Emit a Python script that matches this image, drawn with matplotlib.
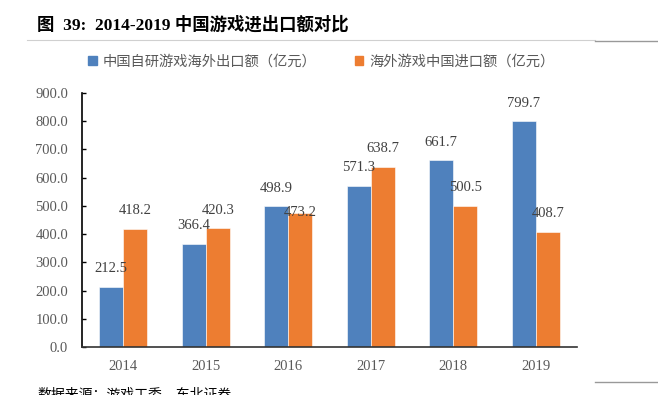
import numpy as np
import matplotlib
matplotlib.use("Agg")
import matplotlib.pyplot as plt
from matplotlib.lines import Line2D
from matplotlib.patches import Patch

plt.rcParams['font.family'] = ['Liberation Serif', 'Noto Sans CJK SC', 'DejaVu Sans']

# data
years = ['2014', '2015', '2016', '2017', '2018', '2019']
export_vals = [212.5, 366.4, 498.9, 571.3, 661.7, 799.7]
import_vals = [418.2, 420.3, 473.2, 638.7, 500.5, 408.7]
series_names = ['中国自研游戏海外出口额（亿元）', '海外游戏中国进口额（亿元）']
yticks = [0, 100, 200, 300, 400, 500, 600, 700, 800, 900]

BLUE = '#4F81BD'
ORANGE = '#ED7D31'
GRAY = '#595959'

W, H = 658, 395
fig = plt.figure(figsize=(W / 100, H / 100), dpi=100)
ax = fig.add_axes([82 / W, 1 - 347 / H, (577 - 82) / W, (347 - 93) / H])

x = np.arange(len(years))
bw = 0.29
ax.bar(x - bw / 2, export_vals, bw, color=BLUE, edgecolor='white', linewidth=0.4)
ax.bar(x + bw / 2, import_vals, bw, color=ORANGE, edgecolor='white', linewidth=0.4)

# value labels above the bars (one label sits lower, as in the source)
for i, v in enumerate(export_vals):
    ax.annotate(f'{v:.1f}', (x[i] - bw / 2, v), xytext=(0, 13), textcoords='offset points',
                ha='center', va='center', fontsize=10.5, color='#404040')
for i, v in enumerate(import_vals):
    dy = 1 if i == 2 else 13
    ax.annotate(f'{v:.1f}', (x[i] + bw / 2, v), xytext=(0, dy), textcoords='offset points',
                ha='center', va='center', fontsize=10.5, color='#404040')

ax.set_xlim(-0.5, len(years) - 0.5)
ax.set_ylim(0, 900)
ax.set_yticks(yticks)
ax.set_yticklabels([f'{t:.1f}' for t in yticks], fontsize=10.5, color=GRAY)
ax.set_xticks(x)
ax.set_xticklabels(years, fontsize=10.5, color=GRAY)
ax.tick_params(axis='x', length=0, pad=9)
ax.tick_params(axis='y', direction='in', length=3, width=1, pad=10)
for s in ['top', 'right']:
    ax.spines[s].set_visible(False)
ax.spines['left'].set_linewidth(1.2)
ax.spines['bottom'].set_linewidth(1.2)
ax.spines['left'].set_color('black')
ax.spines['bottom'].set_color('#333333')

# title and rule
fig.text(37 / W, 1 - 25 / H, '图  39:  2014-2019 中国游戏进出口额对比', fontsize=12.5,
         fontweight='bold', ha='left', va='center')
fig.add_artist(Line2D([27 / W, 595 / W], [1 - 40 / H] * 2, color='#d0d0d0', lw=0.8))
fig.add_artist(Line2D([595 / W, 1], [1 - 41 / H] * 2, color='#999999', lw=1.0))

# legend
handles = [Patch(color=BLUE), Patch(color=ORANGE)]
leg = fig.legend(handles, series_names, loc='center left', bbox_to_anchor=(88 / W, 1 - 62 / H),
                 ncol=2, frameon=False, fontsize=10.3, handlelength=0.6, handleheight=0.6,
                 handletextpad=0.4, columnspacing=2.7, borderaxespad=0, borderpad=0)
for t in leg.get_texts():
    t.set_color(GRAY)
    t.set_family(['Noto Sans CJK SC', 'DejaVu Sans'])

# bottom rule and source note
fig.add_artist(Line2D([595 / W, 1], [1 - 382 / H] * 2, color='#999999', lw=1.0))
fig.text(37 / W, 1 - 387 / H, '数据来源：游戏工委，东北证券', fontsize=10, ha='left', va='top',
         family=['Noto Sans CJK SC', 'DejaVu Sans'])

fig.savefig('out.png', dpi=100)
